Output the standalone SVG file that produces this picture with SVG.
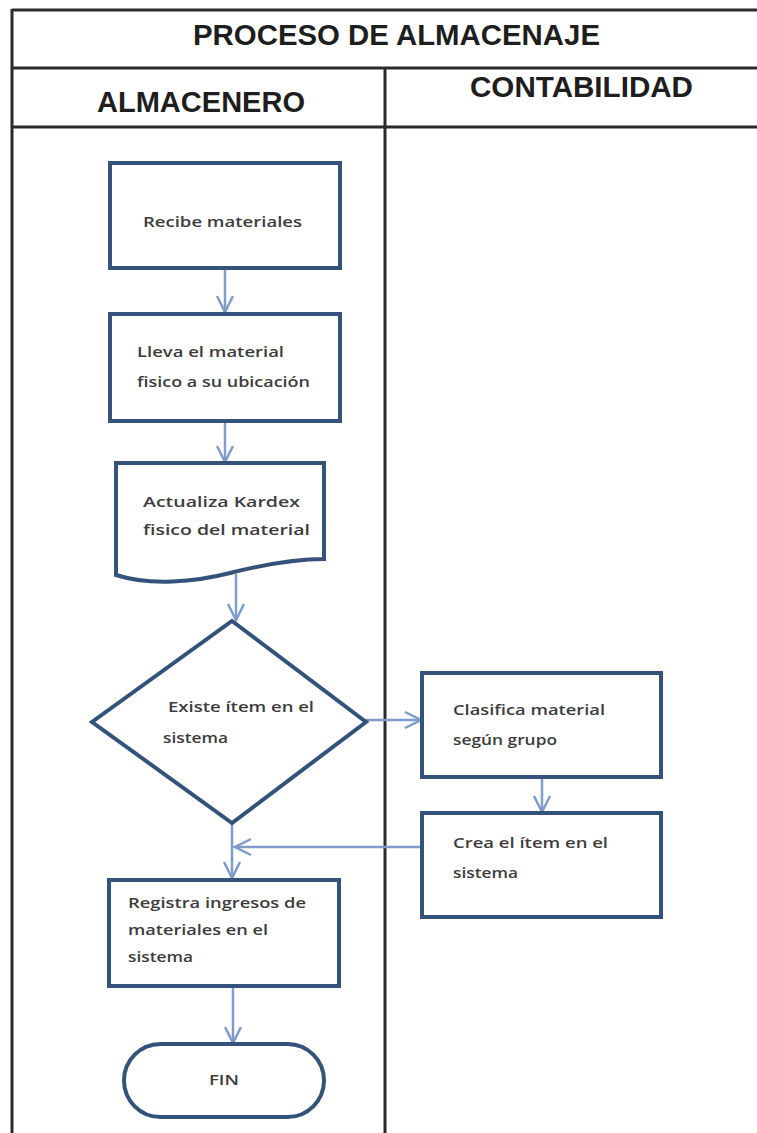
<svg xmlns="http://www.w3.org/2000/svg" width="757" height="1133" viewBox="0 0 757 1133">
  <style>
    .grid { stroke: #2a2a2a; stroke-width: 3; fill: none; }
    .head { font-family: "Liberation Sans", Arial, sans-serif; font-weight: bold; fill: #1e1e1e; }
    .node { fill: #ffffff; stroke: #34527a; stroke-width: 4; }
    .label { font-family: "Open Sans", "Liberation Sans", sans-serif; font-size: 15px; font-weight: 600; fill: #3c3c3c; }
    .flow { stroke: #7f9dc8; stroke-width: 2.5; fill: none; marker-end: url(#arrow); }
  </style>
  <defs>
    <marker id="arrow" viewBox="0 0 20 20" refX="18" refY="10" markerWidth="20" markerHeight="20" markerUnits="userSpaceOnUse" orient="auto">
      <path d="M2,2 L18,10 L2,18" fill="none" stroke="#7f9dc8" stroke-width="2.5"/>
    </marker>
  </defs>

  <rect x="0" y="0" width="757" height="1133" fill="#ffffff"/>

  <!-- swimlane table -->
  <g id="table">
    <line class="grid" x1="12" y1="10" x2="757" y2="10"/>
    <line class="grid" x1="12" y1="68" x2="757" y2="68"/>
    <line class="grid" x1="12" y1="127" x2="757" y2="127"/>
    <line class="grid" x1="12" y1="9" x2="12" y2="1133"/>
    <line class="grid" x1="385" y1="68" x2="385" y2="1133"/>
    <text class="head" x="193" y="45" font-size="29" textLength="407" lengthAdjust="spacingAndGlyphs">PROCESO DE ALMACENAJE</text>
    <text class="head" x="97" y="112" font-size="29" textLength="208" lengthAdjust="spacingAndGlyphs">ALMACENERO</text>
    <text class="head" x="470" y="97" font-size="29" textLength="223" lengthAdjust="spacingAndGlyphs">CONTABILIDAD</text>
  </g>

  <!-- connectors -->
  <g id="connectors">
    <line class="flow" x1="225" y1="268" x2="225" y2="312"/>
    <line class="flow" x1="225" y1="422" x2="225" y2="462"/>
    <line class="flow" x1="236" y1="574" x2="236" y2="620"/>
    <line class="flow" x1="366" y1="720" x2="421" y2="720"/>
    <line class="flow" x1="542" y1="778" x2="542" y2="812"/>
    <line class="flow" x1="421" y1="847" x2="235" y2="847"/>
    <line class="flow" x1="232" y1="823" x2="232" y2="878"/>
    <line class="flow" x1="233" y1="986" x2="233" y2="1043"/>
  </g>

  <g id="recibe">
    <rect class="node" x="110" y="163" width="230" height="105"/>
    <text class="label" x="143" y="227" textLength="159" lengthAdjust="spacingAndGlyphs">Recibe materiales</text>
  </g>

  <g id="lleva">
    <rect class="node" x="110" y="314" width="230" height="107"/>
    <text class="label" x="137" y="357" textLength="147" lengthAdjust="spacingAndGlyphs">Lleva el material</text>
    <text class="label" x="137" y="387" textLength="173" lengthAdjust="spacingAndGlyphs">fisico a su ubicación</text>
  </g>

  <g id="kardex">
    <path class="node" d="M116,463 L324,463 L324,559 C 292,559 262,565 230,573 C 195,582 150,586 116,575 Z"/>
    <text class="label" x="143" y="507" textLength="157" lengthAdjust="spacingAndGlyphs">Actualiza Kardex</text>
    <text class="label" x="143" y="535" textLength="167" lengthAdjust="spacingAndGlyphs">fisico del material</text>
  </g>

  <g id="existe">
    <polygon class="node" points="232,621 366,722 232,823 92,722"/>
    <text class="label" x="168" y="712" textLength="146" lengthAdjust="spacingAndGlyphs">Existe ítem en el</text>
    <text class="label" x="163" y="743" textLength="65" lengthAdjust="spacingAndGlyphs">sistema</text>
  </g>

  <g id="clasifica">
    <rect class="node" x="422" y="673" width="239" height="104"/>
    <text class="label" x="453" y="715" textLength="152" lengthAdjust="spacingAndGlyphs">Clasifica material</text>
    <text class="label" x="453" y="745" textLength="104" lengthAdjust="spacingAndGlyphs">según grupo</text>
  </g>

  <g id="crea">
    <rect class="node" x="422" y="813" width="239" height="104"/>
    <text class="label" x="453" y="848" textLength="155" lengthAdjust="spacingAndGlyphs">Crea el ítem en el</text>
    <text class="label" x="453" y="878" textLength="65" lengthAdjust="spacingAndGlyphs">sistema</text>
  </g>

  <g id="registra">
    <rect class="node" x="109" y="880" width="230" height="106"/>
    <text class="label" x="128" y="908" textLength="178" lengthAdjust="spacingAndGlyphs">Registra ingresos de</text>
    <text class="label" x="128" y="935" textLength="140" lengthAdjust="spacingAndGlyphs">materiales en el</text>
    <text class="label" x="128" y="962" textLength="65" lengthAdjust="spacingAndGlyphs">sistema</text>
  </g>

  <g id="fin">
    <rect class="node" x="124" y="1044" width="200" height="73" rx="36.5" ry="36.5"/>
    <text class="label" x="224" y="1085" text-anchor="middle" textLength="30" lengthAdjust="spacingAndGlyphs">FIN</text>
  </g>
</svg>
